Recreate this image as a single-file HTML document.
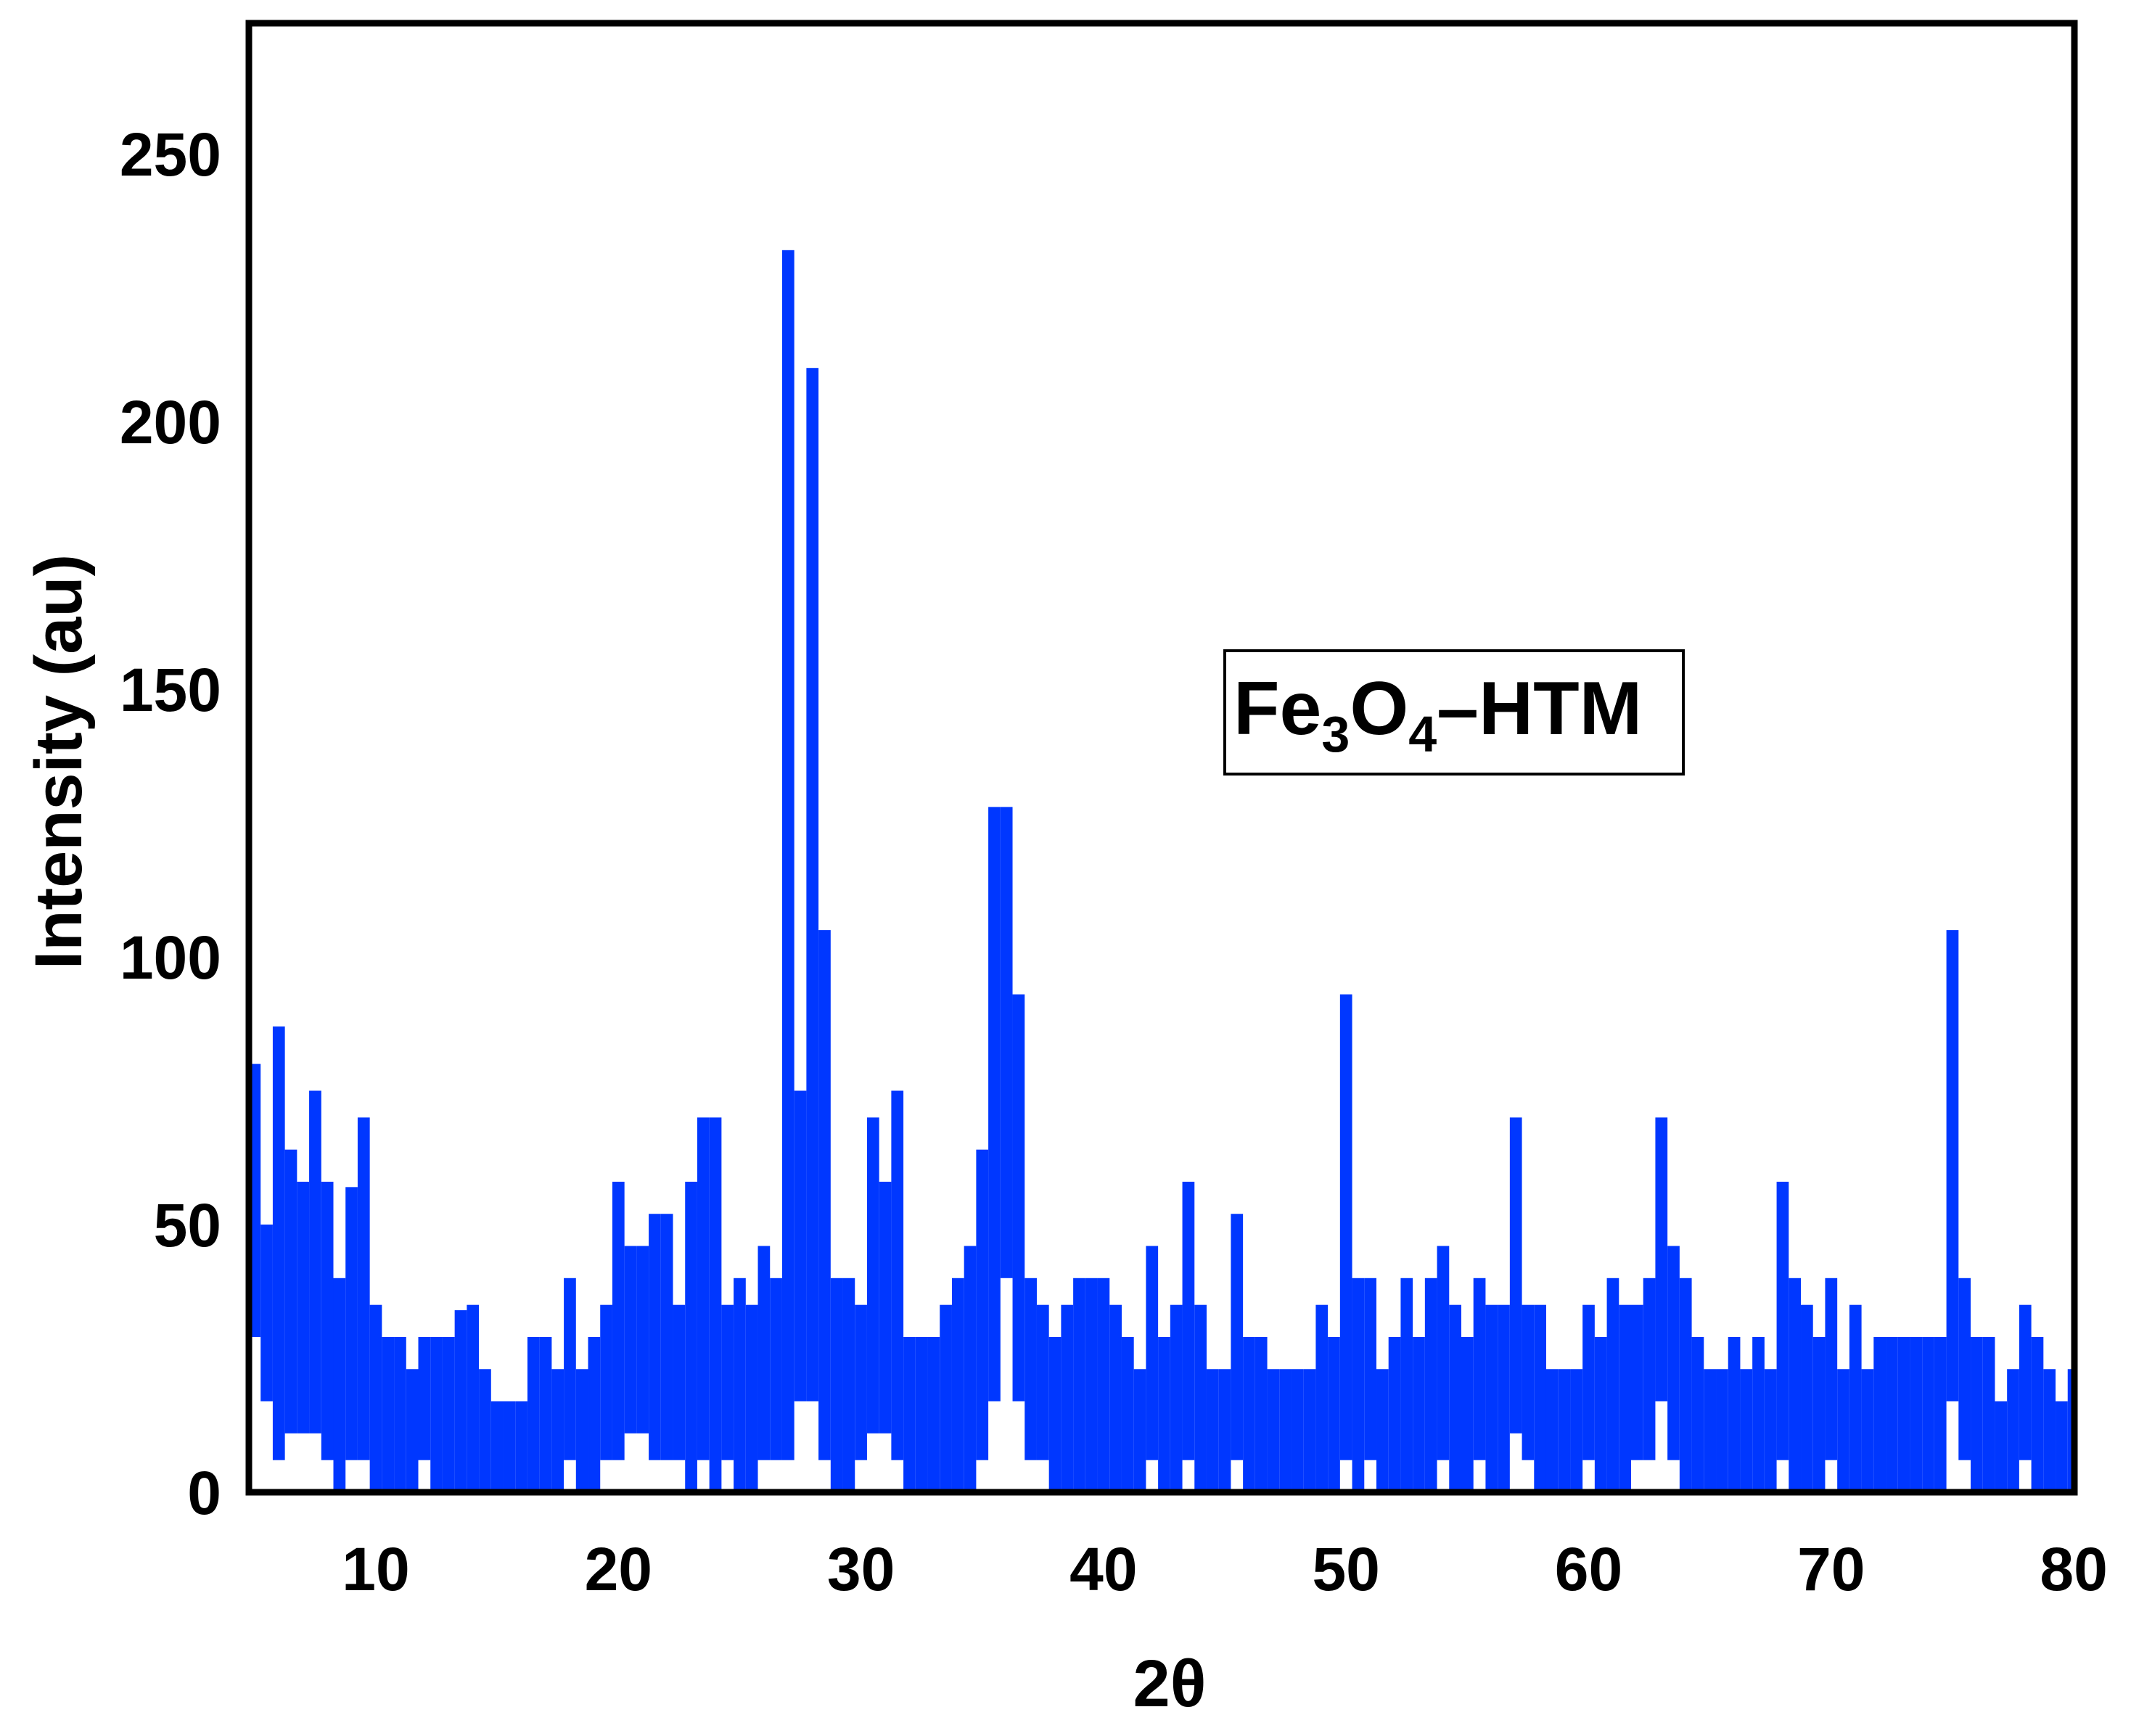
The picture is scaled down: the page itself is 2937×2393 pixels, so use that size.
<!DOCTYPE html>
<html><head><meta charset="utf-8"><style>
html,body{margin:0;padding:0;background:#fff;}
svg{display:block;font-family:"Liberation Sans",Arial,sans-serif;font-weight:bold;}
</style></head><body>
<svg id="chart" width="2937" height="2393" viewBox="0 0 2937 2393" xmlns="http://www.w3.org/2000/svg">
<g id="marks"></g>
<rect x="343" y="32" width="2516" height="2025" fill="none" stroke="#000" stroke-width="9"/>
<g id="xticks"></g>
<g id="yticks"></g>
<text transform="translate(112,1050) rotate(-90)" text-anchor="middle" font-size="92">Intensity (au)</text>
<text x="1612" y="2352" text-anchor="middle" font-size="92">2θ</text>
<g>
<rect x="1688" y="897" width="632" height="170" fill="#fff" stroke="#000" stroke-width="4"/>
<text x="1700" y="1012" font-size="104">Fe<tspan font-size="70" dy="24">3</tspan><tspan dy="-24">O</tspan><tspan font-size="70" dy="24">4</tspan><tspan dy="-24">–HTM</tspan></text>
</g>
</svg>
<script>
const angles = [];
for (let a = 5; a <= 80.001; a += 0.5) angles.push(+a.toFixed(1));
const upper = [80,50,87,64,58,75,58,40,57,70,35,29,29,23,29,29,29,34,35,23,17,17,17,29,29,23,40,23,29,35,58,46,46,52,52,35,58,70,70,35,40,35,46,40,232,75,210,105,40,40,35,70,58,75,29,29,29,35,40,46,64,128,128,93,40,35,29,35,40,40,40,35,29,23,46,29,35,58,35,23,23,52,29,29,23,23,23,23,35,29,93,40,40,23,29,40,29,40,46,35,29,40,35,35,70,35,35,23,23,23,35,29,40,35,35,40,70,46,40,29,23,23,29,23,29,23,58,40,35,29,40,23,35,23,29,29,29,29,29,29,105,40,29,29,17,23,35,29,23,17,23];
const lower = [29,17,6,11,11,11,6,0,6,6,0,0,0,0,6,0,0,0,0,0,0,0,0,0,0,0,6,0,0,6,6,11,11,6,6,6,0,6,0,6,0,0,6,6,6,17,17,6,0,0,6,11,11,6,0,0,0,0,0,0,6,17,40,17,6,6,0,0,0,0,0,0,0,0,6,0,0,6,0,0,0,6,0,0,0,0,0,0,0,0,6,0,6,0,0,0,0,0,6,0,0,6,0,0,11,6,0,0,0,0,6,0,0,0,6,6,17,6,0,0,0,0,0,0,0,0,6,0,0,0,6,0,0,0,0,0,0,0,0,0,17,6,0,0,0,0,6,0,0,0,0];
const xTicks = [10,20,30,40,50,60,70,80];
const yTicks = [0,50,100,150,200,250];
const NS = "http://www.w3.org/2000/svg";
function X(v){ return 518 + (v - 10) * 33.43; }
function Y(v){ return 2057 - v * 7.38; }
const marks = document.getElementById('marks');
for (let i = 0; i < angles.length; i++) {
  const x0 = Math.max(347, X(angles[i] - 0.25));
  const x1 = Math.min(2855, X(angles[i] + 0.25));
  const r = document.createElementNS(NS, 'rect');
  
  
  r.setAttribute('x', x0);
  r.setAttribute('width', x1 - x0);
  r.setAttribute('y', Y(upper[i]));
  r.setAttribute('height', Y(lower[i]) - Y(upper[i]));
  r.setAttribute('fill', '#0037ff');
  marks.appendChild(r);
}
const xg = document.getElementById('xticks');
xTicks.forEach(t => {
  const e = document.createElementNS(NS, 'text');
  
  
  e.setAttribute('x', X(t));
  e.setAttribute('y', 2192);
  e.setAttribute('text-anchor', 'middle');
  e.setAttribute('font-size', '84');
  e.textContent = t;
  xg.appendChild(e);
});
const yg = document.getElementById('yticks');
yTicks.forEach(t => {
  const e = document.createElementNS(NS, 'text');
  
  
  e.setAttribute('x', 305);
  e.setAttribute('y', Y(t) + 30);
  e.setAttribute('text-anchor', 'end');
  e.setAttribute('font-size', '84');
  e.textContent = t;
  yg.appendChild(e);
});
</script>
</body></html>
